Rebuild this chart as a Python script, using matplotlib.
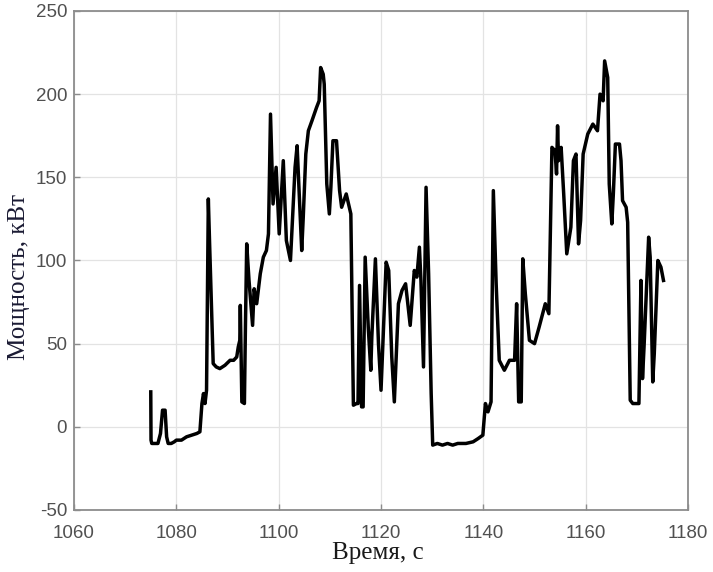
import matplotlib.pyplot as plt

plt.rcParams['axes.unicode_minus'] = False

# time (s) and power (kW) samples of the load cycle
time_s = [
    1075.0, 1075.05, 1075.2, 1076.0, 1076.4, 1076.9, 1077.3, 1077.8, 1078.1, 1078.4,
    1079.0, 1079.6, 1080.0, 1081.0, 1082.0, 1083.0, 1084.0, 1084.6, 1085.0, 1085.3,
    1085.6, 1085.9, 1086.25, 1086.5, 1086.8, 1087.2, 1087.8, 1088.5, 1089.5, 1090.5,
    1091.2, 1091.8, 1092.1, 1092.4, 1092.5, 1092.8, 1093.3, 1093.5, 1093.75, 1094.2,
    1094.9, 1095.2, 1095.7, 1096.4, 1097.0, 1097.6, 1098.0, 1098.4, 1098.9, 1099.5,
    1100.1, 1100.9, 1101.5, 1102.3, 1103.2, 1103.6, 1104.5, 1104.8, 1105.3, 1105.8,
    1106.5, 1107.4, 1107.9, 1108.2, 1108.7, 1108.9, 1109.4, 1109.9, 1110.2, 1110.6,
    1111.3, 1111.9, 1112.3, 1113.2, 1113.8, 1114.1, 1114.6, 1115.2, 1115.5, 1115.8,
    1116.2, 1116.5, 1116.9, 1117.5, 1118.0, 1118.2, 1118.9, 1119.5, 1120.0, 1120.5,
    1121.0, 1121.5, 1122.1, 1122.6, 1123.4, 1124.1, 1124.8, 1125.7, 1126.5, 1127.0,
    1127.5, 1127.8, 1128.3, 1128.8, 1129.3, 1129.8, 1130.1, 1131.0, 1132.0, 1133.0,
    1134.0, 1135.0, 1136.6, 1138.0, 1139.0, 1139.9, 1140.4, 1140.9, 1141.5, 1141.95,
    1142.5, 1143.1, 1144.1, 1145.1, 1146.1, 1146.5, 1146.9, 1147.4, 1147.7, 1148.2,
    1149.0, 1150.0, 1150.9, 1152.1, 1152.8, 1153.4, 1154.0, 1154.3, 1154.5, 1154.7,
    1155.2, 1155.7, 1156.3, 1157.1, 1157.6, 1158.1, 1158.6, 1159.0, 1159.5, 1160.4,
    1161.4, 1162.3, 1162.8, 1163.4, 1163.7, 1164.3, 1164.6, 1165.1, 1165.4, 1165.8,
    1166.6, 1166.9, 1167.2, 1167.9, 1168.2, 1168.7, 1169.2, 1170.4, 1170.8, 1171.1,
    1171.4, 1172.3, 1172.6, 1173.1, 1173.4, 1174.1, 1174.7, 1175.2,
]
power_kw = [
    21, -8, -10, -10, -10, -4, 10, 10, -6, -10,
    -10, -9, -8, -8, -6, -5, -4, -3, 14, 20,
    14, 22, 137, 110, 80, 38, 36, 35, 37, 40,
    40, 42, 48, 52, 73, 15, 14, 60, 110, 88,
    61, 83, 74, 92, 102, 106, 116, 188, 134, 156,
    116, 160, 112, 100, 156, 169, 106, 126, 164, 178,
    184, 192, 196, 216, 212, 206, 146, 128, 144, 172,
    172, 142, 132, 140, 132, 128, 13, 14, 14, 85,
    12, 12, 102, 60, 34, 54, 101, 50, 22, 60,
    99, 94, 42, 15, 74, 82, 86, 61, 94, 90,
    108, 88, 36, 144, 92, 20, -11, -10, -11, -10,
    -11, -10, -10, -9, -7, -5, 14, 9, 15, 142,
    86, 40, 34, 40, 40, 74, 15, 15, 101, 80,
    52, 50, 60, 74, 68, 168, 166, 152, 181, 160,
    168, 140, 104, 120, 160, 164, 110, 124, 164, 176,
    182, 178, 200, 196, 220, 210, 146, 122, 140, 170,
    170, 160, 136, 132, 123, 16, 14, 14, 88, 29,
    48, 114, 102, 27, 44, 100, 96, 88,
]

x_ticks = [1060, 1080, 1100, 1120, 1140, 1160, 1180]
y_ticks = [-50, 0, 50, 100, 150, 200, 250]

fig = plt.figure(figsize=(7.13, 5.72), dpi=100)
ax = fig.add_axes([0.1038, 0.1084, 0.8612, 0.8724])

ax.plot(time_s, power_kw, color='black', linewidth=2.5)

ax.set_xlim(1060, 1180)
ax.set_ylim(-50, 250)
ax.set_xticks(x_ticks)
ax.set_yticks(y_ticks)
ax.grid(True, color='#e3e3e3', linewidth=0.9)
ax.set_axisbelow(True)

for side in ax.spines.values():
    side.set_color('#8c8c8c')
    side.set_linewidth(1.3)
ax.tick_params(direction='in', length=4, width=1, color='#8c8c8c',
               labelcolor='#505050', labelsize=13.5, top=False, right=False)
ax.tick_params(axis='x', pad=11)
ax.tick_params(axis='y', pad=5)
for lbl in ax.get_xticklabels() + ax.get_yticklabels():
    lbl.set_family('Liberation Sans')

ax.set_xlabel('Время, с', family='Liberation Serif', fontsize=18, color='#1a1a1a')
ax.set_ylabel('Мощность, кВт', family='Liberation Serif', fontsize=18, color='#1a1a33')
ax.xaxis.set_label_coords(0.495, -0.064)
ax.yaxis.set_label_coords(-0.072, 0.467)

fig.savefig('out.png', dpi=100)
